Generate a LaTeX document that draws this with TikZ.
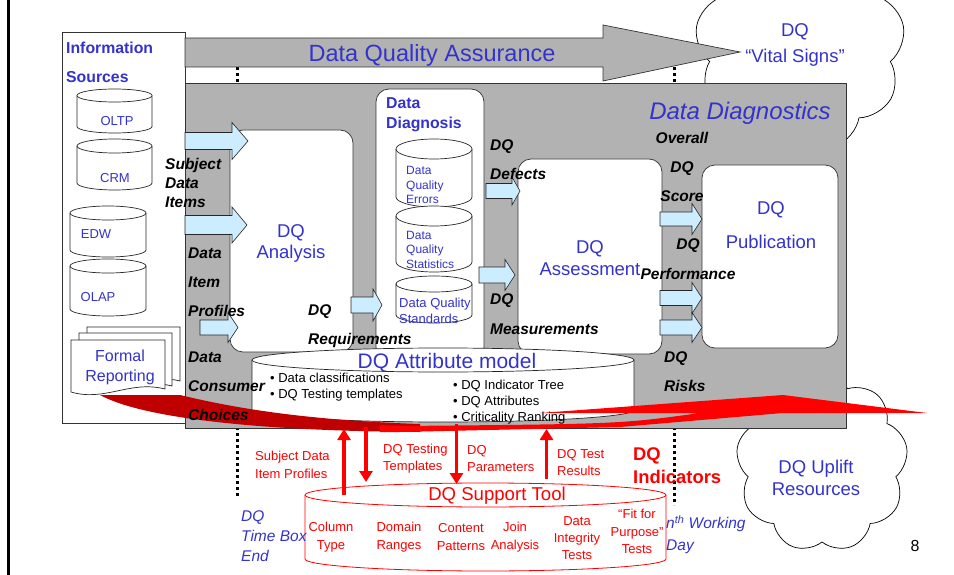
\documentclass[tikz,border=0pt]{standalone}
\usepackage{fontspec}
\setmainfont{Liberation Sans}
\usetikzlibrary{shapes.symbols,arrows.meta}

\definecolor{dqblue}{RGB}{51,51,204}
\definecolor{dqgray}{RGB}{178,178,178}
\definecolor{dqcyan}{RGB}{204,236,255}
\definecolor{dqred}{RGB}{255,0,0}
\definecolor{dqdark}{RGB}{192,0,0}

\newcommand{\fsz}[2]{\fontsize{#1}{#2}\selectfont}
% drum: left x, right x, top y, bottom y, lid half height, style
\newcommand{\drum}[6]{%
  \filldraw[#6] (#1,-#3-#5) -- (#1,-#4+#5) arc[start angle=180,end angle=360,x radius={(#2-#1)/2},y radius=#5]
    -- (#2,-#3-#5) arc[start angle=0,end angle=180,x radius={(#2-#1)/2},y radius=#5] -- cycle;
  \draw[#6] (#1,-#3-#5) arc[start angle=180,end angle=360,x radius={(#2-#1)/2},y radius=#5];}
% block arrow: tail x, neck x, tip x, mid y, half body, half head
\newcommand{\blockarr}[6]{%
  \filldraw[bluearrow] (#1,-#4+#5) -- (#2,-#4+#5) -- (#2,-#4+#6) -- (#3,-#4)
    -- (#2,-#4-#6) -- (#2,-#4-#5) -- (#1,-#4-#5) -- cycle;}

\begin{document}
\begin{tikzpicture}[x=1pt,y=1pt,
    boxline/.style={draw=black!80,line width=0.7pt},
    graybox/.style={boxline,fill=dqgray},
    roundbox/.style={boxline,fill=white,rounded corners=13pt},
    bluearrow/.style={draw=black!85,line width=0.6pt,fill=dqcyan},
    drumline/.style={draw=black!85,line width=0.7pt,fill=white},
    tooldrum/.style={draw=dqred,line width=0.8pt,fill=white},
    redarrow/.style={draw=dqred,line width=3.5pt,-{Triangle[width=13pt,length=11pt]}},
    dotline/.style={line width=3pt,dash pattern=on 3pt off 3pt},
    puffs/.style={cloud,draw,cloud puffs=9,cloud puff arc=120,cloud ignores aspect,line width=0.7pt},
    flowlabel/.style={font=\bfseries\itshape\fsz{15.5}{29},align=left},
    bluetext/.style={text=dqblue,align=center},
    redtext/.style={text=dqred,font=\fsz{13}{17.5},align=left}]
    \tikzstyle{every node}+=[inner sep=0pt]
    \useasboundingbox (0,0) rectangle (954,-575);
    \clip (0,0) rectangle (954,-575);

    % slide edge
    \draw[line width=3.3pt] (8.3,0) -- (8.3,-575);

    % clouds
    \node[puffs,minimum width=210pt,minimum height=215pt] (vitalcloud) at (800,-45) {};
    \node[puffs,minimum width=172pt,minimum height=178pt] (upliftcloud) at (822,-463) {};

    % time box markers
    \coordinate (boxend-top) at (237,-67);
    \coordinate (boxend-bot) at (237,-496);
    \coordinate (nthday-top) at (674,-67);
    \coordinate (nthday-bot) at (674,-505);
    \draw[dotline] (boxend-top) -- (boxend-bot);
    \draw[dotline] (nthday-top) -- (nthday-bot);

    % information sources and diagnostics panel
    \draw[boxline,fill=white] (62,-32) rectangle (185,-423);
    \draw[graybox] (185,-83) rectangle (846,-428);
    \draw[graybox] (185,-38) -- (603,-38) -- (603,-25) -- (740,-52) -- (603,-81) -- (603,-67) -- (185,-67) -- cycle;

    % stage boxes
    \draw[roundbox] (230,-130) rectangle (353,-352);
    \draw[roundbox] (376,-89) rectangle (484,-360);
    \draw[roundbox] (518,-159) rectangle (662,-354);
    \draw[roundbox] (702,-165) rectangle (838,-348);

    % flows
    \blockarr{185}{232}{248}{141}{8.5}{18.5}
    \blockarr{185}{232}{247}{225}{9.5}{18}
    \blockarr{200}{228}{238}{327.5}{7.5}{15}
    \blockarr{351}{373}{382}{305}{8}{16}
    \blockarr{486}{512}{520}{191}{7.5}{14}
    \blockarr{479}{505}{515}{275}{8}{15.5}
    \blockarr{660}{692}{702}{219}{7}{15.5}
    \blockarr{660}{692}{702}{298}{7.5}{15.5}
    \blockarr{660}{692}{702}{327.5}{7.5}{15}

    % stores
    \drum{77}{152}{89}{133}{6.5}{drumline}
    \drum{77}{152}{139}{190}{7}{drumline}
    \drum{70}{146}{206}{257}{7}{drumline}
    \drum{70}{146}{259}{316}{7}{drumline}
    \drum{396}{472}{139}{207}{10}{drumline}
    \drum{396}{472}{206}{272}{10}{drumline}
    \drum{396}{472}{276}{323}{8}{drumline}

    % formal reporting
    \filldraw[drumline] (87,-327) -- (180,-327) -- (180,-381) .. controls (150,-373) and (120,-393) .. (87,-385) -- cycle;
    \filldraw[drumline] (79,-333) -- (172,-333) -- (172,-386) .. controls (142,-378) and (112,-398) .. (79,-390) -- cycle;
    \filldraw[drumline] (71,-340) -- (165,-340) -- (165,-389) .. controls (130,-380) and (105,-402) .. (71,-392) -- cycle;

    % attribute model
    \drum{252}{634}{348}{422}{12}{drumline}

    % uplift sweep
    \fill[dqdark] (100,-395) -- (180,-395) .. controls (230,-407) and (300,-420) .. (420,-424)
      -- (420,-432) .. controls (250,-431) and (140,-417) .. (100,-395) -- cycle;
    \fill[dqred] (380,-425) -- (400,-426) .. controls (620,-424) .. (700,-413) -- (540,-413) -- (783,-395)
      -- (927,-413) -- (783,-413) -- (620,-427) -- (400,-432) -- (380,-432) -- cycle;

    % support tool
    \drum{305}{666}{483}{571}{12}{tooldrum}
    \coordinate (tool-a) at (344,-495);
    \coordinate (model-a) at (344,-429);
    \coordinate (model-b) at (366,-427);
    \coordinate (tool-b) at (366,-482);
    \coordinate (model-c) at (456.5,-424);
    \coordinate (tool-c) at (456.5,-484);
    \coordinate (tool-d) at (546.5,-479);
    \coordinate (model-d) at (546.5,-429);
    \draw[redarrow] (tool-a) -- (model-a);
    \draw[redarrow] (model-b) -- (tool-b);
    \draw[redarrow] (model-c) -- (tool-c);
    \draw[redarrow] (tool-d) -- (model-d);

    % titles
    \node[bluetext,font=\fsz{23.5}{28}] (assurance) at (432,-55) {Data Quality Assurance};
    \node[bluetext,font=\itshape\fsz{24}{28}] (diagnostics) at (740,-113) {Data Diagnostics};
    \node[bluetext,font=\fsz{18.5}{26}] (vitaltext) at (795,-45) {DQ\\“Vital Signs”};
    \node[bluetext,font=\fsz{18.5}{22}] (uplifttext) at (816,-478) {DQ Uplift\\Resources};
    \node[font=\fsz{16}{18}] (pageno) at (915,-546) {8};

    % sources
    \node[bluetext,font=\bfseries\fsz{15.8}{29},align=left,anchor=west] (sources) at (66,-62) {Information\\Sources};
    \node[bluetext,font=\fsz{13}{15}] (oltp) at (117,-121) {OLTP};
    \node[bluetext,font=\fsz{13}{15}] (crm) at (115,-178) {CRM};
    \node[bluetext,font=\fsz{13}{15}] (edw) at (96,-234) {EDW};
    \node[bluetext,font=\fsz{13}{15}] (olap) at (98,-297) {OLAP};
    \node[bluetext,font=\fsz{16}{20}] (reporting) at (120,-367) {Formal\\Reporting};

    % stages
    \node[bluetext,font=\fsz{18.5}{21}] (analysis) at (291,-243) {DQ\\Analysis};
    \node[bluetext,font=\bfseries\fsz{15.8}{20},align=left,anchor=west] (diagnosis) at (386,-115) {Data\\Diagnosis};
    \node[bluetext,font=\fsz{12}{14.3},align=left,anchor=west] (errors) at (406,-185) {Data\\Quality\\Errors};
    \node[bluetext,font=\fsz{12}{14.5},align=left,anchor=west] (statistics) at (406,-249.5) {Data\\Quality\\Statistics};
    \node[bluetext,font=\fsz{13}{16},align=left,anchor=west] (standards) at (399,-311) {Data Quality\\Standards};
    \node[bluetext,font=\fsz{18.5}{22}] (assessment) at (590,-258) {DQ\\Assessment};
    \node[bluetext,font=\fsz{18.5}{34}] (publication) at (771,-225) {DQ\\Publication};
    \node[bluetext,font=\fsz{21}{24}] (attrmodel) at (447,-363) {DQ Attribute model};
    \node[font=\fsz{13}{16},align=left,anchor=west] (attrleft) at (270,-387) {• Data classifications\\• DQ Testing templates};
    \node[font=\fsz{13}{16},align=left,anchor=west] (attrright) at (453,-402) {• DQ Indicator Tree\\• DQ Attributes\\• Criticality Ranking};

    % flow labels
    \node[flowlabel,font=\bfseries\itshape\fsz{15.5}{19},anchor=west] (subject) at (165,-183) {Subject\\Data\\Items};
    \node[flowlabel,anchor=west] (profiles) at (188,-282) {Data\\Item\\Profiles};
    \node[flowlabel,anchor=west] (requirements) at (308,-326) {DQ\\Requirements};
    \node[flowlabel,anchor=west] (choices) at (188,-386) {Data\\Consumer\\Choices};
    \node[flowlabel,anchor=west] (defects) at (490,-160) {DQ\\Defects};
    \node[flowlabel,font=\bfseries\itshape\fsz{15.5}{30},anchor=west] (measurements) at (490,-314) {DQ\\Measurements};
    \node[flowlabel,align=center] (score) at (682,-167) {Overall\\DQ\\Score};
    \node[flowlabel,font=\bfseries\itshape\fsz{15.5}{30},align=center] (performance) at (688,-259) {DQ\\Performance};
    \node[flowlabel,anchor=west] (risks) at (664,-372) {DQ\\Risks};

    % tool side
    \node[redtext,anchor=west] (sdiprofiles) at (255,-465) {Subject Data\\Item Profiles};
    \node[redtext,font=\fsz{13}{17},anchor=west] (templates) at (383,-459) {DQ Testing\\Templates};
    \node[redtext,font=\fsz{13}{17},anchor=west] (parameters) at (467,-459) {DQ\\Parameters};
    \node[redtext,font=\fsz{13}{17},anchor=west] (testresults) at (557,-463) {DQ Test\\Results};
    \node[redtext,font=\bfseries\fsz{18.4}{23},anchor=west] (indicators) at (633,-466) {DQ\\Indicators};
    \node[text=dqred,font=\fsz{18.6}{22}] (tooltitle) at (497,-496) {DQ Support Tool};
    \node[redtext,font=\fsz{13}{18},align=center] (coltype) at (331,-537) {Column\\Type};
    \node[redtext,font=\fsz{13}{18},align=center] (domain) at (399,-537) {Domain\\Ranges};
    \node[redtext,font=\fsz{13}{18},align=center] (content) at (461,-537) {Content\\Patterns};
    \node[redtext,font=\fsz{13}{18},align=center] (join) at (515,-537) {Join\\Analysis};
    \node[redtext,font=\fsz{13}{17},align=center] (integrity) at (577,-538.5) {Data\\Integrity\\Tests};
    \node[redtext,font=\fsz{13}{17.5},align=center] (fitness) at (637,-531.5) {“Fit for\\Purpose”\\Tests};
    \node[bluetext,font=\itshape\fsz{15.5}{20},align=left,anchor=west] (timebox) at (241,-536) {DQ\\Time Box\\End};
    \node[bluetext,font=\itshape\fsz{15.5}{22},align=left,anchor=west] (workingday) at (666,-535) {n\textsuperscript{th} Working\\Day};
\end{tikzpicture}
\end{document}
